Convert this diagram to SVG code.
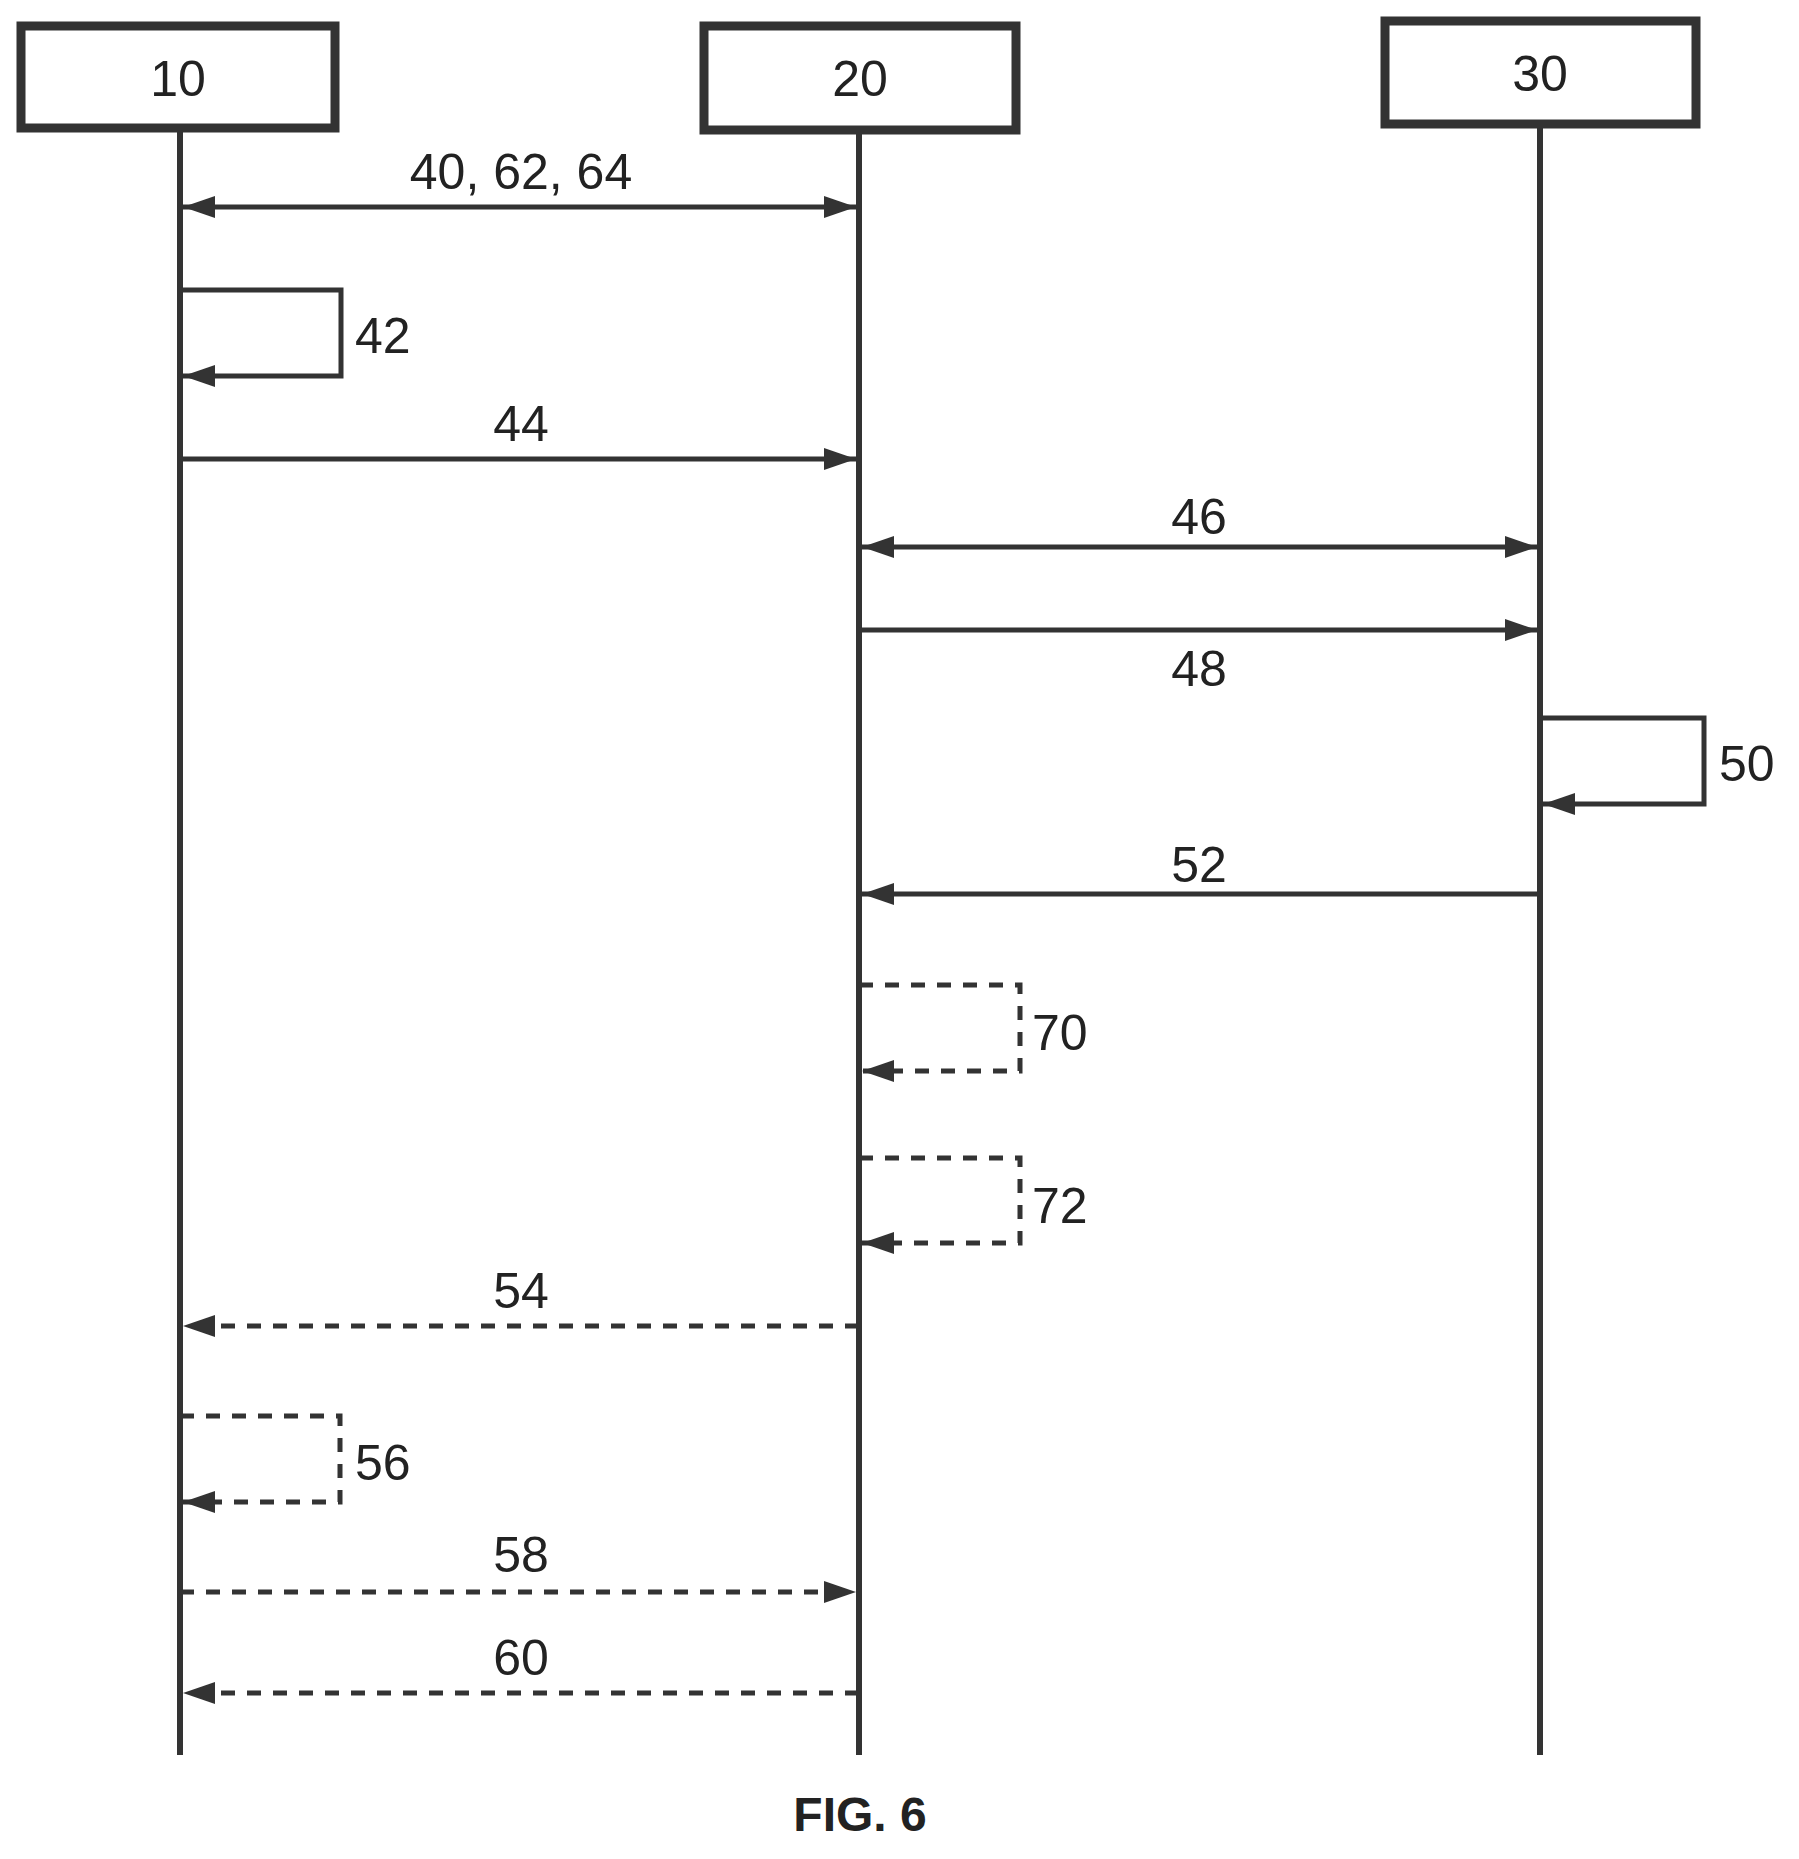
<svg xmlns="http://www.w3.org/2000/svg" width="1799" height="1859" viewBox="0 0 1799 1859">
<style>
.box{fill:#fff;stroke:#333;stroke-width:9}
.life{stroke:#333;stroke-width:6;fill:none}
.msg{stroke:#333;stroke-width:5;fill:none}
.d{stroke-dasharray:14 12}
text{font-family:"Liberation Sans",Arial,sans-serif;font-size:50px;fill:#222}
.c{text-anchor:middle}
</style>
<defs>
<marker id="a" markerUnits="userSpaceOnUse" markerWidth="34" markerHeight="26" refX="32" refY="13" orient="auto-start-reverse"><path d="M0,2 L32,13 L0,24 Z" fill="#333"/></marker>
</defs>
<g id="n10"><rect class="box" x="21" y="26" width="314" height="102"/><text class="c" x="178" y="96">10</text></g>
<g id="n20"><rect class="box" x="704" y="26" width="312" height="104"/><text class="c" x="860" y="96">20</text></g>
<g id="n30"><rect class="box" x="1385" y="21" width="311" height="103"/><text class="c" x="1540" y="91">30</text></g>
<g id="lifelines">
<line class="life" x1="180" y1="128" x2="180" y2="1755"/>
<line class="life" x1="859" y1="130" x2="859" y2="1755"/>
<line class="life" x1="1540" y1="124" x2="1540" y2="1755"/>
</g>
<g id="connectors">
<line class="msg" x1="183" y1="207" x2="856" y2="207" marker-start="url(#a)" marker-end="url(#a)"/>
<polyline class="msg" points="180,290 341,290 341,376 183,376" marker-end="url(#a)"/>
<line class="msg" x1="180" y1="459" x2="856" y2="459" marker-end="url(#a)"/>
<line class="msg" x1="862" y1="547" x2="1537" y2="547" marker-start="url(#a)" marker-end="url(#a)"/>
<line class="msg" x1="859" y1="630" x2="1537" y2="630" marker-end="url(#a)"/>
<polyline class="msg" points="1540,718 1704,718 1704,804 1543,804" marker-end="url(#a)"/>
<line class="msg" x1="1540" y1="894" x2="862" y2="894" marker-end="url(#a)"/>
<polyline class="msg d" points="859,985 1020,985 1020,1071 862,1071" marker-end="url(#a)"/>
<polyline class="msg d" points="859,1158 1020,1158 1020,1243 862,1243" marker-end="url(#a)"/>
<line class="msg d" x1="859" y1="1326" x2="183" y2="1326" marker-end="url(#a)"/>
<polyline class="msg d" points="180,1416 340,1416 340,1502 183,1502" marker-end="url(#a)"/>
<line class="msg d" x1="180" y1="1592" x2="856" y2="1592" marker-end="url(#a)"/>
<line class="msg d" x1="859" y1="1693" x2="183" y2="1693" marker-end="url(#a)"/>
</g>
<g id="labels">
<text class="c" x="521" y="189">40, 62, 64</text>
<text x="355" y="353">42</text>
<text class="c" x="521" y="441">44</text>
<text class="c" x="1199" y="534">46</text>
<text class="c" x="1199" y="686">48</text>
<text x="1719" y="781">50</text>
<text class="c" x="1199" y="882">52</text>
<text x="1032" y="1050">70</text>
<text x="1032" y="1223">72</text>
<text class="c" x="521" y="1308">54</text>
<text x="355" y="1480">56</text>
<text class="c" x="521" y="1572">58</text>
<text class="c" x="521" y="1675">60</text>
<text class="c" x="860" y="1831" style="font-weight:bold;font-size:48px">FIG. 6</text>
</g>
</svg>
